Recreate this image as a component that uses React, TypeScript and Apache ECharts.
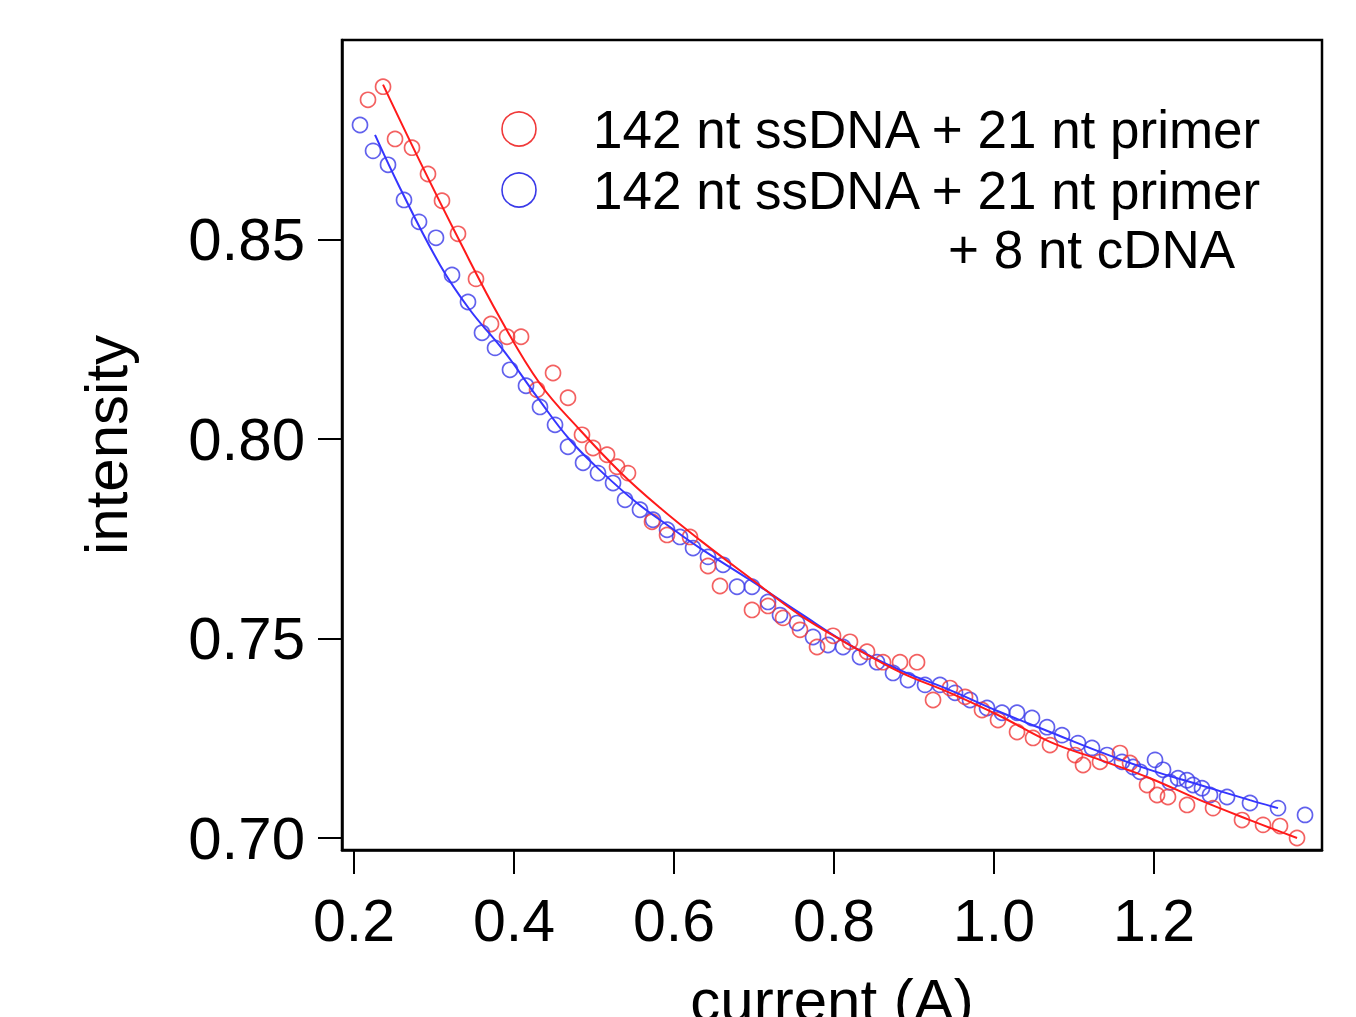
import React, { useEffect, useRef } from "react";
import * as echarts from "echarts";

// Measured data points (current in A, intensity)
const redPointsX = [0.2175, 0.2363, 0.2513, 0.2725, 0.2925, 0.31, 0.33, 0.3525, 0.3713, 0.3913, 0.4088, 0.4288, 0.4488, 0.4675, 0.485, 0.4988, 0.5163, 0.5288, 0.5425, 0.5725, 0.5913, 0.62, 0.6425, 0.6575, 0.6975, 0.7175, 0.7363, 0.7575, 0.7788, 0.7988, 0.82, 0.8413, 0.8613, 0.8825, 0.9038, 0.9238, 0.945, 0.9638, 0.985, 1.005, 1.0288, 1.0488, 1.07, 1.1013, 1.1113, 1.1325, 1.1575, 1.17, 1.1913, 1.2038, 1.2175, 1.2413, 1.2738, 1.31, 1.3363, 1.3575, 1.3788];
const redPointsY = [0.8851, 0.8884, 0.8753, 0.8731, 0.8665, 0.8598, 0.8515, 0.8402, 0.8289, 0.8257, 0.8257, 0.8124, 0.8166, 0.8104, 0.8011, 0.7978, 0.7961, 0.7931, 0.7915, 0.7793, 0.776, 0.7755, 0.7682, 0.7632, 0.7572, 0.7582, 0.7552, 0.7522, 0.7479, 0.7507, 0.7492, 0.7467, 0.7441, 0.7441, 0.7441, 0.7346, 0.7376, 0.7354, 0.7321, 0.7296, 0.7266, 0.7251, 0.7233, 0.7208, 0.7183, 0.7191, 0.7213, 0.7188, 0.7133, 0.7108, 0.7103, 0.7083, 0.7075, 0.7045, 0.7033, 0.703, 0.7];

const bluePointsX = [0.2075, 0.2238, 0.2425, 0.2625, 0.2813, 0.3025, 0.3225, 0.3425, 0.36, 0.3763, 0.395, 0.415, 0.4325, 0.4513, 0.4675, 0.4863, 0.505, 0.5238, 0.5388, 0.5575, 0.5738, 0.5913, 0.6075, 0.6238, 0.6425, 0.6613, 0.6788, 0.6975, 0.7175, 0.7325, 0.7538, 0.7738, 0.7925, 0.8113, 0.8325, 0.8538, 0.8738, 0.8925, 0.9138, 0.9325, 0.9513, 0.97, 0.9913, 1.01, 1.0288, 1.0475, 1.0663, 1.085, 1.105, 1.1225, 1.1413, 1.16, 1.1738, 1.1825, 1.2013, 1.2113, 1.22, 1.23, 1.2413, 1.2488, 1.26, 1.27, 1.2913, 1.32, 1.355, 1.3888];
const bluePointsY = [0.8788, 0.8723, 0.8688, 0.86, 0.8545, 0.8505, 0.8412, 0.8344, 0.8267, 0.8229, 0.8174, 0.8134, 0.8081, 0.8036, 0.7981, 0.7941, 0.7915, 0.789, 0.7848, 0.7823, 0.7798, 0.7773, 0.7755, 0.7727, 0.7705, 0.7685, 0.763, 0.763, 0.7592, 0.7559, 0.7539, 0.7504, 0.7484, 0.7479, 0.7454, 0.7441, 0.7414, 0.7396, 0.7384, 0.7384, 0.7364, 0.7346, 0.7326, 0.7314, 0.7314, 0.7301, 0.7278, 0.7258, 0.7238, 0.7226, 0.7208, 0.7191, 0.7178, 0.7166, 0.7196, 0.7171, 0.714, 0.715, 0.7145, 0.7133, 0.7125, 0.7108, 0.7103, 0.7088, 0.7075, 0.7058];

// Fit curves
const redFitX = [0.2363, 0.2825, 0.3325, 0.3825, 0.4325, 0.4825, 0.5325, 0.5825, 0.6325, 0.695, 0.7575, 0.82, 0.8825, 0.945, 1.0075, 1.07, 1.1325, 1.195, 1.2575, 1.32, 1.3788];
const redFitY = [0.8889, 0.8696, 0.8495, 0.8304, 0.8139, 0.8023, 0.7918, 0.7828, 0.7747, 0.7652, 0.7559, 0.7484, 0.7416, 0.7364, 0.7306, 0.7241, 0.7196, 0.715, 0.7095, 0.7045, 0.7];

const blueFitX = [0.2263, 0.2575, 0.3075, 0.345, 0.3863, 0.4288, 0.47, 0.5113, 0.5538, 0.595, 0.6325, 0.695, 0.7575, 0.82, 0.8825, 0.945, 1.0075, 1.07, 1.1325, 1.195, 1.2575, 1.32, 1.355];
const blueFitY = [0.8763, 0.863, 0.8437, 0.8324, 0.8224, 0.8106, 0.7998, 0.7915, 0.784, 0.778, 0.7727, 0.7647, 0.7564, 0.7484, 0.7421, 0.7371, 0.7316, 0.7266, 0.7216, 0.7171, 0.7133, 0.7095, 0.7075];

const xTicks = [0.2, 0.4, 0.6, 0.8, 1.0, 1.2];
const yTicks = [0.7, 0.75, 0.8, 0.85];

const legendLine1 = "142 nt ssDNA + 21 nt primer";
const legendLine2 = "142 nt ssDNA + 21 nt primer";
const legendLine3 = "+ 8 nt cDNA";

const RED = "#f03a3a";
const BLUE = "#3a3ae8";
const RED_LINE = "#ff1a1a";
const BLUE_LINE = "#3535ff";
const FONT = "Liberation Sans, Arial, sans-serif";

const zip = (xs: number[], ys: number[]) => xs.map((x, i) => [x, ys[i]]);

export default function App() {
  const ref = useRef<HTMLDivElement>(null);

  useEffect(() => {
    if (!ref.current) return;
    const chart = echarts.init(ref.current, undefined, { renderer: "svg" });
    chart.setOption({
      animation: false,
      backgroundColor: "#ffffff",
      grid: {
        left: 342,
        width: 980,
        top: 40,
        height: 810,
        outerBoundsMode: "none",
        containLabel: false,
        show: true,
        borderColor: "#000",
        borderWidth: 2.5,
        backgroundColor: "transparent",
      },
      xAxis: {
        type: "value",
        min: 0.185,
        max: 1.41,
        name: "current (A)",
        nameLocation: "middle",
        nameGap: 120,
        nameTextStyle: { fontSize: 60, color: "#000", fontFamily: FONT },
        axisLine: { show: true, lineStyle: { color: "#000", width: 2.5 } },
        axisTick: {
          show: true,
          customValues: xTicks,
          length: 24,
          inside: false,
          lineStyle: { color: "#000", width: 2 },
        },
        axisLabel: {
          customValues: xTicks,
          formatter: (v: number) => v.toFixed(1),
          fontSize: 59,
          color: "#000",
          fontFamily: FONT,
          margin: 41,
        },
        splitLine: { show: false },
      },
      yAxis: {
        type: "value",
        min: 0.697,
        max: 0.9001,
        name: "intensity",
        nameLocation: "middle",
        nameRotate: 90,
        nameGap: 206,
        nameTextStyle: { fontSize: 60, color: "#000", fontFamily: FONT },
        axisLine: { show: true, lineStyle: { color: "#000", width: 2.5 } },
        axisTick: {
          show: true,
          customValues: yTicks,
          length: 24,
          inside: false,
          lineStyle: { color: "#000", width: 2 },
        },
        axisLabel: {
          customValues: yTicks,
          formatter: (v: number) => v.toFixed(2),
          fontSize: 60,
          color: "#000",
          fontFamily: FONT,
          margin: 37,
        },
        splitLine: { show: false },
      },
      graphic: [
        {
          type: "circle",
          shape: { cx: 519, cy: 129, r: 17 },
          style: { fill: "none", stroke: RED, lineWidth: 1.6 },
        },
        {
          type: "circle",
          shape: { cx: 519, cy: 190, r: 17 },
          style: { fill: "none", stroke: BLUE, lineWidth: 1.6 },
        },
        {
          type: "text",
          x: 593,
          y: 129,
          style: { text: legendLine1, font: `53px ${FONT}`, fill: "#000", verticalAlign: "middle" },
        },
        {
          type: "text",
          x: 593,
          y: 190,
          style: { text: legendLine2, font: `53px ${FONT}`, fill: "#000", verticalAlign: "middle" },
        },
        {
          type: "text",
          x: 948,
          y: 249,
          style: { text: legendLine3, font: `53px ${FONT}`, fill: "#000", verticalAlign: "middle" },
        },
      ],
      series: [
        {
          name: "blue points",
          type: "scatter",
          data: zip(bluePointsX, bluePointsY),
          symbol: "circle",
          symbolSize: 15,
          itemStyle: { color: "transparent", borderColor: BLUE, borderWidth: 1.7 },
          z: 2,
        },
        {
          name: "red points",
          type: "scatter",
          data: zip(redPointsX, redPointsY),
          symbol: "circle",
          symbolSize: 15,
          itemStyle: { color: "transparent", borderColor: RED, borderWidth: 1.7 },
          z: 3,
        },
        {
          name: "blue fit",
          type: "line",
          data: zip(blueFitX, blueFitY),
          smooth: 0.4,
          showSymbol: false,
          lineStyle: { color: BLUE_LINE, width: 2 },
          z: 4,
        },
        {
          name: "red fit",
          type: "line",
          data: zip(redFitX, redFitY),
          smooth: 0.4,
          showSymbol: false,
          lineStyle: { color: RED_LINE, width: 2 },
          z: 5,
        },
      ],
    });
    return () => chart.dispose();
  }, []);

  return (
    <div
      ref={ref}
      style={{ position: "fixed", left: 0, top: 0, width: 1356, height: 1017, background: "#fff" }}
    />
  );
}
